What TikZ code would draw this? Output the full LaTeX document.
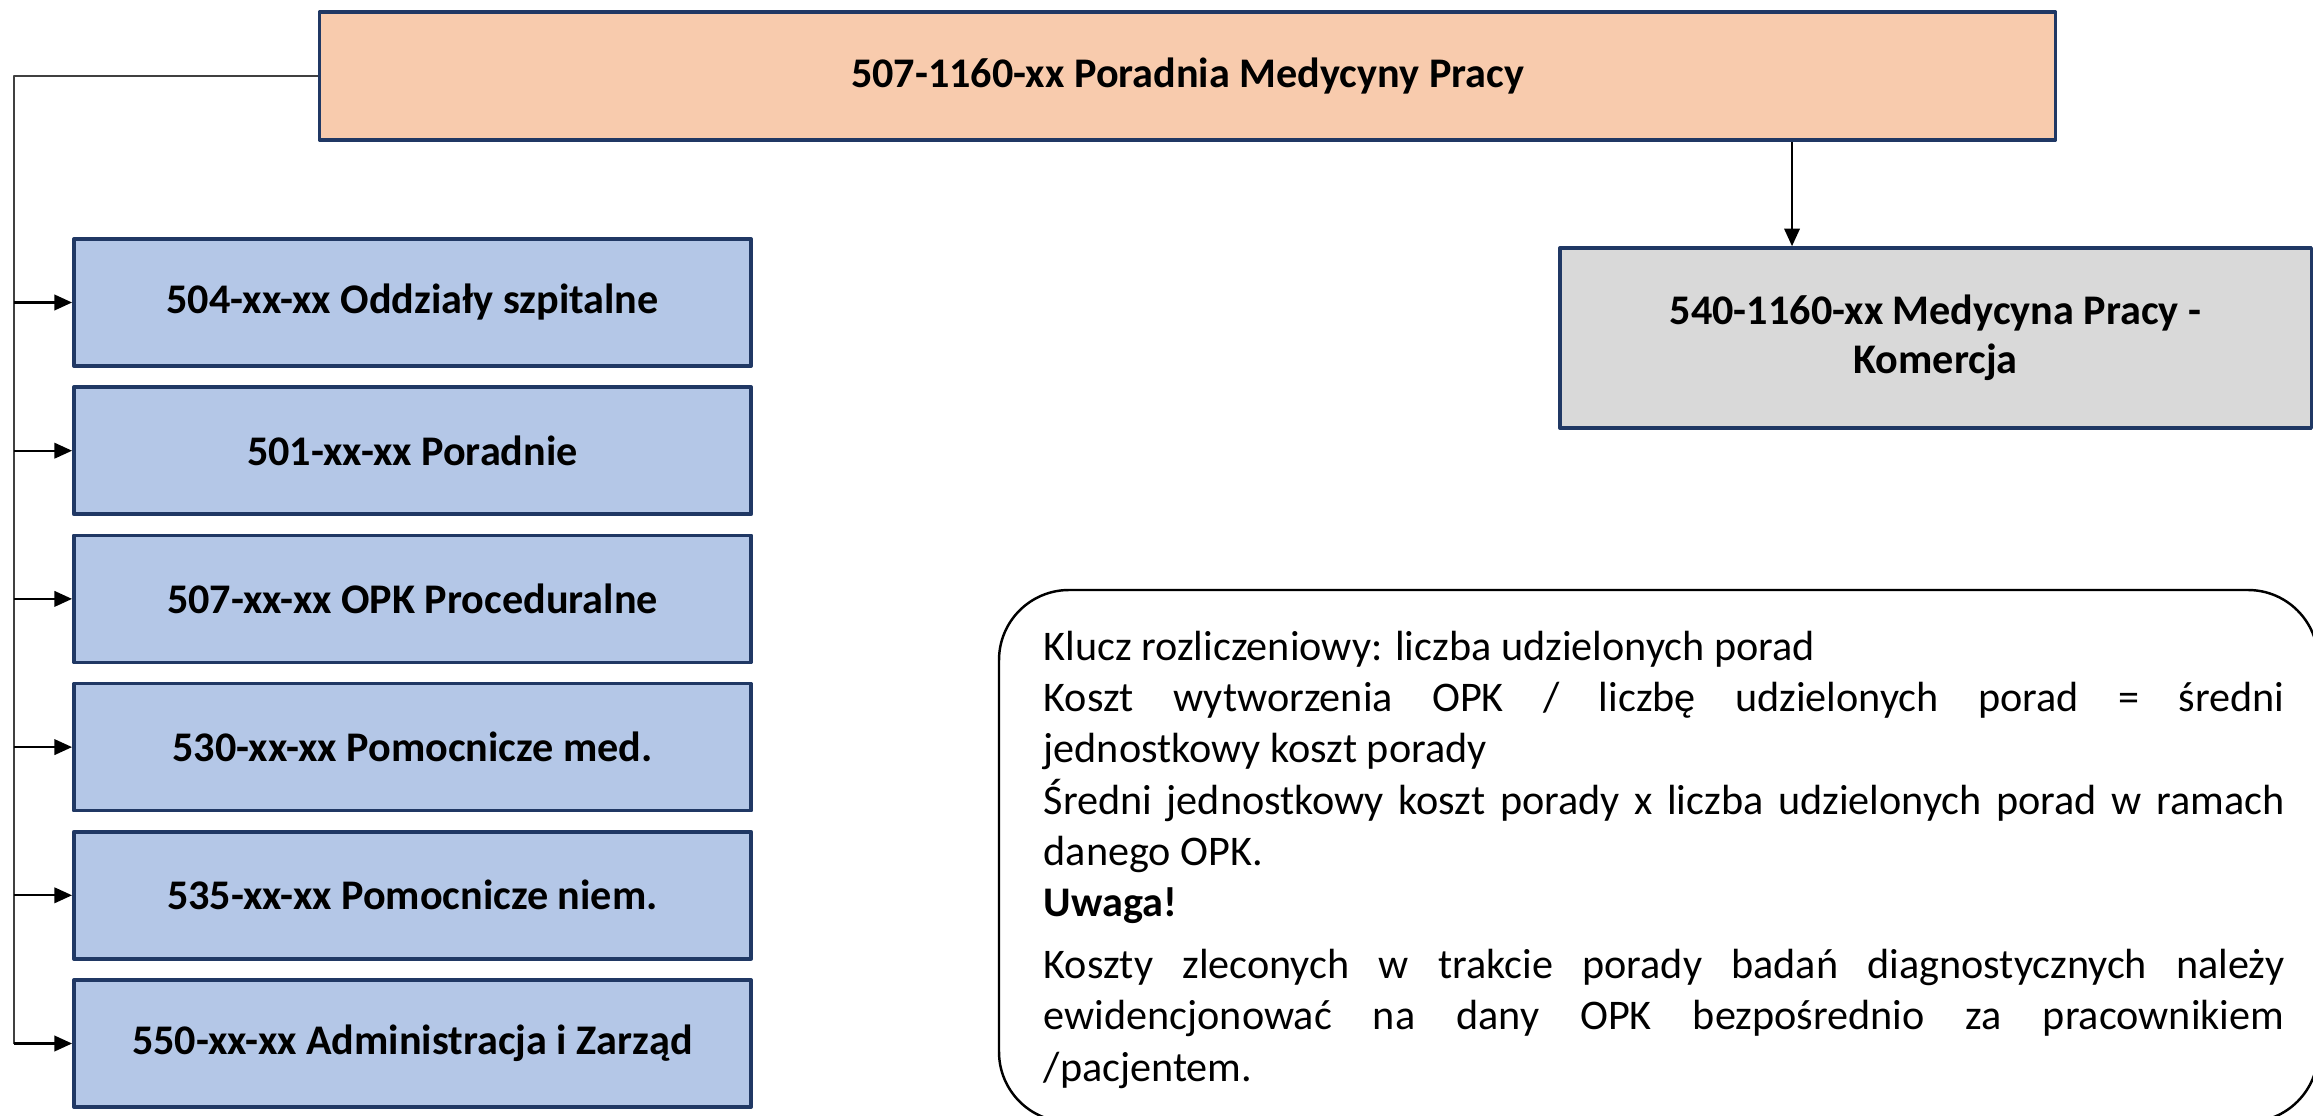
\documentclass[tikz,border=0pt]{standalone}
\usepackage{fontspec}
\setmainfont{Carlito}
\usetikzlibrary{arrows.meta}
\definecolor{ramka}{HTML}{203864}
\definecolor{brzoskwinia}{HTML}{F8CBAD}
\definecolor{niebieski}{HTML}{B4C7E7}
\definecolor{szary}{HTML}{D9D9D9}
\begin{document}
\begin{tikzpicture}[>={Triangle[length=5pt,width=4.4pt]},line join=round,x=0.01cm,y=-0.01cm,
	box/.style={draw=ramka,line width=1pt,inner sep=0pt,align=center,font=\fontsize{12}{14}\selectfont\bfseries},
	strzalka/.style={->,line width=0.6pt}]
	\useasboundingbox (0,0) rectangle (2313,1116);
	\node[box,fill=brzoskwinia,minimum width=17.35cm,minimum height=1.28cm] (mp) at (1187.5,76) {507-1160-xx Poradnia Medycyny Pracy};
	\node[box,fill=szary,minimum width=7.51cm,minimum height=1.8cm] (kom) at (1935.5,338) {540-1160-xx Medycyna Pracy -\\Komercja};
	\foreach \t[count=\i] in {504-xx-xx Oddziały szpitalne,501-xx-xx Poradnie,507-xx-xx OPK Proceduralne,530-xx-xx Pomocnicze med.,535-xx-xx Pomocnicze niem.,550-xx-xx Administracja i Zarząd}
	\node[box,fill=niebieski,minimum width=6.77cm,minimum height=1.27cm] (o\i) at (412.5,{302.5+(\i-1)*148.2}) {\t};
	\coordinate (szyna) at (14,0);
	\coordinate (k) at (1792,0);
	\draw[line width=0.5pt,black!75] (mp.west) -| (szyna |- o6.west);
	\foreach \i in {1,...,6}\draw[strzalka] (szyna |- o\i.west) -- (o\i.west);
	\draw[strzalka] (mp.south -| k) -- (kom.north -| k);
	% uwagi
	\node[anchor=north west,text width=12.4cm,align=justify,inner sep=0pt,font=\fontsize{12}{14.6}\selectfont] (uwagi) at (1043,630) {Klucz rozliczeniowy: liczba udzielonych porad\\
		Koszt wytworzenia OPK / liczbę udzielonych porad = średni\linebreak
		jednostkowy koszt porady\\
		Średni jednostkowy koszt porady x liczba udzielonych porad w ramach\linebreak
		danego OPK.\\
		\textbf{Uwaga!}\\[3pt]
		Koszty zleconych w trakcie porady badań diagnostycznych należy\linebreak
		ewidencjonować na dany OPK bezpośrednio za pracownikiem\linebreak
		/pacjentem.};
	\begin{scope}
		\clip (0,0) rectangle (2313,1116);
		\draw[line width=0.7pt,rounded corners=0.7cm] (999,590) rectangle (2318,1122);
	\end{scope}
\end{tikzpicture}
\end{document}
